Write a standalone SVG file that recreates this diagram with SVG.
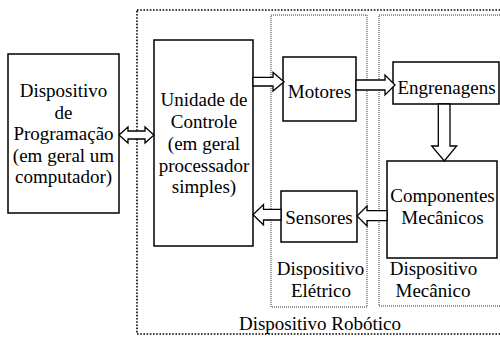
<svg xmlns="http://www.w3.org/2000/svg" width="500" height="337" viewBox="0 0 500 337">
<style>
.t{font-size:19px;fill:#000;text-anchor:middle}
.box{fill:#fff;stroke:#000;stroke-width:1.5}
.arrow{fill:#fff;stroke:#000;stroke-width:1.3;stroke-linejoin:miter}
.outer{fill:none;stroke:#000;stroke-width:1.6;stroke-dasharray:1.6 1.6}
.inner{fill:none;stroke:#333;stroke-width:1;stroke-dasharray:1 1}
</style>
<rect fill="#fff" width="500" height="337"/>
<g id="regions">
<rect id="robotico" class="outer" x="137" y="10" width="370" height="324"/>
<rect id="eletrico" class="inner" x="271" y="15" width="96" height="292"/>
<rect id="mecanico" class="inner" x="379" y="15" width="126" height="291"/>
</g>
<g class="t" style="font-family:'Liberation Serif','Times New Roman',Tinos,'Noto Serif','DejaVu Serif',serif">
<g id="prog">
<rect class="box" x="8" y="54" width="111" height="159"/>
<text x="63.5" y="97">Dispositivo</text>
<text x="63.5" y="118.5">de</text>
<text x="63.5" y="140">Programação</text>
<text x="63.5" y="161.5">(em geral um</text>
<text x="63.5" y="183">computador)</text>
</g>
<g id="unidade">
<rect class="box" x="154" y="40" width="99" height="206"/>
<text x="204" y="106">Unidade de</text>
<text x="204" y="128">Controle</text>
<text x="204" y="150">(em geral</text>
<text x="204" y="172">processador</text>
<text x="204" y="193">simples)</text>
</g>
<g id="motores">
<rect class="box" x="283" y="57" width="73" height="64"/>
<text x="319.5" y="98">Motores</text>
</g>
<g id="engrenagens">
<rect class="box" x="393" y="62" width="106" height="42"/>
<text x="446.5" y="94">Engrenagens</text>
</g>
<g id="componentes">
<rect class="box" x="387" y="161" width="110" height="97"/>
<text x="442.5" y="202">Componentes</text>
<text x="442.5" y="224">Mecânicos</text>
</g>
<g id="sensores">
<rect class="box" x="281" y="191" width="76" height="51"/>
<text x="319" y="224">Sensores</text>
</g>
<g id="labels">
<text x="320.5" y="275">Dispositivo</text>
<text x="321" y="297">Elétrico</text>
<text x="433.5" y="275">Dispositivo</text>
<text x="433" y="297">Mecânico</text>
<text x="320" y="330">Dispositivo Robótico</text>
</g>
</g>
<g id="connectors">
<polygon class="arrow" points="119,135 128,127 128,131 145,131 145,127 154,135 145,143 145,139 128,139 128,143"/>
<polygon class="arrow" points="253,77.3 273,77.3 273,72.5 284,81.7 273,91 273,86 253,86"/>
<polygon class="arrow" points="356,80 385,80 385,75 395,85 385,95 385,90 356,90"/>
<polygon class="arrow" points="438.3,104 450,104 450,146 456.7,146 444.3,161 431.7,146 438.3,146"/>
<polygon class="arrow" points="387,210.7 367,210.7 367,206 357,216 367,226 367,220.7 387,220.7"/>
<polygon class="arrow" points="281,209.3 263.5,209.3 263.5,204.5 253,214.7 263.5,225 263.5,220 281,220"/>
</g>
</svg>
